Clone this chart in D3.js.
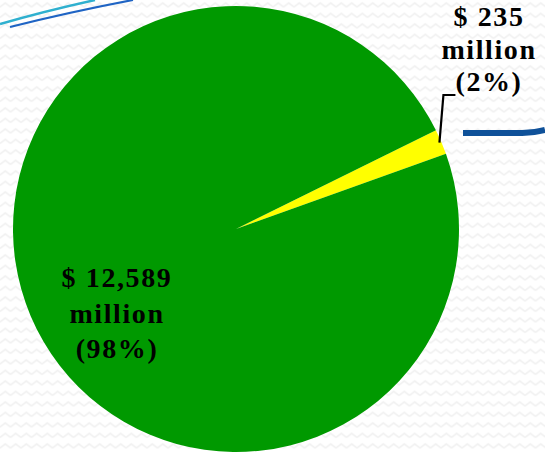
<!DOCTYPE html>
<html>
<head>
<meta charset="utf-8">
<script src="https://cdn.jsdelivr.net/npm/d3@7"></script>
<style>
  html, body { margin: 0; padding: 0; background: #ffffff; }
  svg { display: block; }
</style>
</head>
<body>
<svg id="chart" width="545" height="453"></svg>
<script>
// ---- data ----
const categories = ["Other", "Main"];
const values = [235, 12589];
const amountLabels = ["$ 235", "$ 12,589"];
const unitLabels = ["million", "million"];
const percentLabels = ["(2%)", "(98%)"];
const colors = ["#ffff00", "#009900"];

const W = 545, H = 453;
const cx = 236, cy = 229, R = 223;
const svg = d3.select("#chart");

// background zigzag pattern
const defs = svg.append("defs");
const pat = defs.append("pattern")
  .attr("id", "zig").attr("patternUnits", "userSpaceOnUse")
  .attr("width", 10.5).attr("height", 10.5);
pat.append("rect").attr("width", 10.5).attr("height", 10.5).attr("fill", "#ffffff");
pat.append("path").attr("d", "M0,7 L5.25,3 L10.5,7")
  .attr("fill", "none").attr("stroke", "#f1f1f1").attr("stroke-width", 1.6);
svg.append("rect").attr("width", W).attr("height", H).attr("fill", "url(#zig)");

// decorative lines
svg.append("path").attr("d", "M0,24 Q45,11 95,0")
  .attr("fill", "none").attr("stroke", "#2fb0cf").attr("stroke-width", 2.4);
svg.append("path").attr("d", "M10,27 Q70,12 133,0")
  .attr("fill", "none").attr("stroke", "#1f64c4").attr("stroke-width", 2.2);
svg.append("path").attr("d", "M463,133 L522,133 Q536,132.5 545,130")
  .attr("fill", "none").attr("stroke", "#0f5199").attr("stroke-width", 6);

// pie
const startDeg = 63.7;
const pie = d3.pie().sort(null).value(d => d)
  .startAngle(startDeg * Math.PI / 180)
  .endAngle((startDeg + 360) * Math.PI / 180);
const arcs = pie(values);
const arc = d3.arc().innerRadius(0).outerRadius(R);

const g = svg.append("g").attr("transform", `translate(${cx},${cy})`);
g.selectAll("path.slice").data(arcs).enter().append("path")
  .attr("class", "slice")
  .attr("d", arc)
  .attr("fill", (d, i) => colors[i]);

// leader line for small slice
const a0 = arcs[0];
const mid = (a0.startAngle + a0.endAngle) / 2;
const px = Math.sin(mid) * (R - 2), py = -Math.cos(mid) * (R - 2);
g.append("polyline")
  .attr("points", `${px},${py} ${px + 4},${95 - cy} ${px + 16},${95 - cy}`)
  .attr("fill", "none").attr("stroke", "#000").attr("stroke-width", 2.2);

// labels
const labelPos = [
  { x: 489 - cx, y: 26 - cy, dy: 32.5 },
  { x: 117 - cx, y: 287 - cy, dy: 35.5 }
];
arcs.forEach((d, i) => {
  const lines = [amountLabels[i], unitLabels[i], percentLabels[i]];
  const t = g.append("text")
    .attr("text-anchor", "middle")
    .attr("font-family", "'Liberation Serif', 'Times New Roman', serif")
    .attr("font-weight", "bold")
    .attr("font-size", 28)
    .attr("letter-spacing", 1.6)
    .attr("fill", "#000");
  lines.forEach((s, j) => {
    t.append("tspan").attr("x", labelPos[i].x).attr("y", labelPos[i].y + j * labelPos[i].dy).text(s);
  });
});
</script>
</body>
</html>
